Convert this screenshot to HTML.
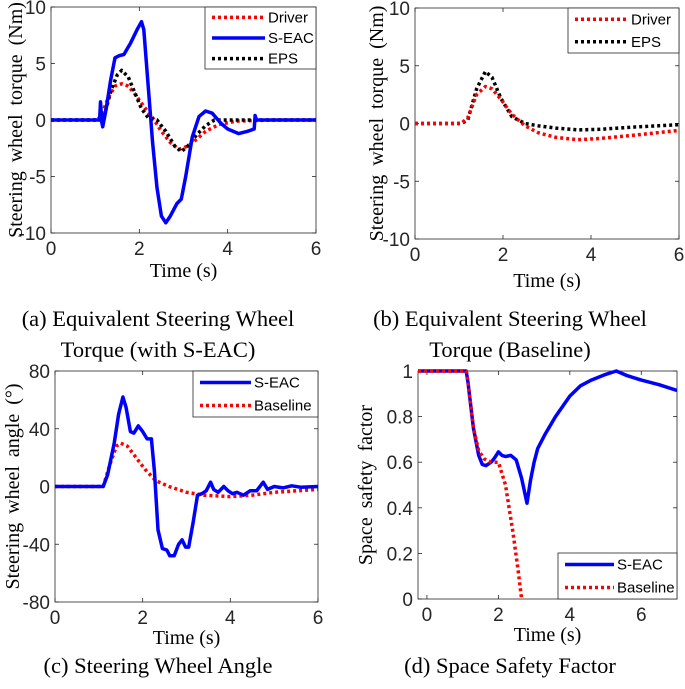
<!DOCTYPE html>
<html><head><meta charset="utf-8"><style>
body{margin:0;background:#fff;width:685px;height:689px;overflow:hidden}
svg{display:block}
.tk{font-family:"Liberation Sans",sans-serif;font-size:19px;fill:#262626}
.ax{font-family:"Liberation Serif",serif;font-size:20px;fill:#000}
.cap{font-family:"Liberation Serif",serif;font-size:22.5px;fill:#000}
.lg{font-family:"Liberation Sans",sans-serif;font-size:15px;fill:#000}
</style></head><body>
<svg id="fig" width="685" height="689">
<text class="cap" x="158" y="326" text-anchor="middle">(a) Equivalent Steering Wheel</text>
<text class="cap" x="158" y="357" text-anchor="middle">Torque (with S-EAC)</text>
<text class="cap" x="510" y="326" text-anchor="middle">(b) Equivalent Steering Wheel</text>
<text class="cap" x="510" y="357" text-anchor="middle">Torque (Baseline)</text>
<text class="cap" x="158" y="673" text-anchor="middle">(c) Steering Wheel Angle</text>
<text class="cap" x="510" y="673" text-anchor="middle">(d) Space Safety Factor</text>
</svg>
<script>
// (a)
const aDriverT=[0,1.05,1.15,1.3,1.45,1.6,1.75,1.9,2.1,2.3,2.5,2.7,2.9,3.1,3.3,3.5,3.8,4.2,5,6];
const aDriverV=[0,0,0.5,2,3,3.2,3,2.3,1.2,0.2,-1,-2,-2.6,-2.3,-1.7,-1,-0.4,-0.1,0,0];
const aEpsT=[0,1.1,1.2,1.35,1.5,1.6,1.75,1.9,2.05,2.2,2.4,2.6,2.8,2.95,3.1,3.3,3.5,3.7,3.9,6];
const aEpsV=[0,0,0.3,2.5,4,4.4,3.8,2.4,1,0.2,0,-1,-2.3,-2.8,-2.3,-1.3,-0.5,0,0,0];
const aSeacT=[0,1.1,1.12,1.15,1.17,1.25,1.35,1.45,1.55,1.65,1.8,1.95,2.05,2.1,2.2,2.3,2.4,2.5,2.6,2.7,2.85,2.95,3.05,3.2,3.35,3.5,3.65,3.85,4.0,4.25,4.45,4.6,4.62,4.65,6];
const aSeacV=[0,0,1.6,-0.2,-0.6,1,3.5,5.5,5.7,5.8,6.8,8,8.7,8,3,-2,-6,-8.5,-9.1,-8.5,-7.4,-7,-5,-1.5,0.3,0.8,0.6,-0.3,-0.8,-1.2,-1,-0.8,0.4,0,0];
const torqueTicks=[-10,-5,0,5,10];
const timeTicks=[0,2,4,6];
// (b)
const bT=[0,1.05,1.2,1.4,1.6,1.75,1.95,2.2,2.5,2.8,3.2,3.7,4.2,5,6];
const bDriverV=[0,0,0.5,2.5,3.2,3,2.1,0.8,-0.2,-0.8,-1.2,-1.4,-1.3,-1,-0.6];
const bEpsV=[0,0,0.3,3,4.5,4,2.2,0.6,0,-0.2,-0.4,-0.55,-0.5,-0.3,-0.1];
// (c)
const cBaseT=[0,1.1,1.25,1.4,1.5,1.65,1.85,2.05,2.3,2.6,3,3.4,4,4.5,5,6];
const cBaseV=[0,0,15,28,30,28,20,12,4,0,-4,-6,-7,-6,-4,-2];
const cSeacT=[0,1.1,1.2,1.35,1.45,1.55,1.62,1.72,1.8,1.9,2.0,2.1,2.2,2.27,2.35,2.45,2.55,2.62,2.72,2.82,2.9,2.98,3.05,3.15,3.25,3.35,3.45,3.55,3.62,3.72,3.85,3.95,4.05,4.15,4.3,4.45,4.6,4.75,4.85,5.0,5.2,5.4,5.6,6];
const cSeacV=[0,0,8,30,50,62,55,38,37,42,38,33,33,10,-30,-43,-44,-48,-48,-40,-37,-42,-42,-25,-6,-5,-3,3,-2,-4,0,-3,-5,-4,-6,-3,-3,3,-2,0,-1,0.5,-0.5,0];
const angleTicks=[-80,-40,0,40,80];
// (d)
const dBaseT=[-0.25,1.1,1.15,1.3,1.45,1.6,1.8,2.0,2.2,2.4,2.55,2.65];
const dBaseV=[1,1,0.95,0.75,0.65,0.615,0.6,0.6,0.5,0.3,0.13,0];
const dSeacT=[-0.25,1.1,1.15,1.3,1.45,1.55,1.65,1.8,1.9,2.0,2.1,2.2,2.35,2.5,2.65,2.8,2.9,3.0,3.1,3.3,3.6,4.0,4.3,4.6,5.0,5.3,5.6,6.0,6.5,7];
const dSeacV=[1,1,0.95,0.75,0.63,0.59,0.585,0.6,0.62,0.645,0.63,0.625,0.63,0.61,0.53,0.42,0.52,0.6,0.66,0.72,0.8,0.89,0.935,0.96,0.985,1.0,0.98,0.96,0.94,0.915];
const safetyTicks=[0,0.2,0.4,0.6,0.8,1];
const safetyTickLabels=["0","0.2","0.4","0.6","0.8","1"];
const timeTicksD=[0,2,4,6];

const NS="http://www.w3.org/2000/svg";
const fig=document.getElementById('fig');
function mk(tag,attrs,parent){const e=document.createElementNS(NS,tag);for(const k in attrs)e.setAttribute(k,attrs[k]);(parent||fig).appendChild(e);return e;}
const STY={
 blue:{stroke:'#0000ff','stroke-width':3.5,fill:'none'},
 red:{stroke:'#ff0000','stroke-width':3.5,fill:'none','stroke-dasharray':'3 3'},
 black:{stroke:'#000','stroke-width':3.5,fill:'none','stroke-dasharray':'3 3'}
};
function chart(o){
 const g=mk('g',{});
 
 
 const X=v=>o.L+(v-o.x0)/(o.x1-o.x0)*(o.R-o.L);
 const Y=v=>o.B-(v-o.y0)/(o.y1-o.y0)*(o.B-o.T);
 mk('rect',{x:o.L,y:o.T,width:o.R-o.L,height:o.B-o.T,fill:'#fff',stroke:'#262626','stroke-width':0.8},g);
 o.xt.forEach(v=>{const x=X(v);
  mk('line',{x1:x,x2:x,y1:o.B,y2:o.B-4,stroke:'#262626','stroke-width':0.8},g);
  mk('line',{x1:x,x2:x,y1:o.T,y2:o.T+4,stroke:'#262626','stroke-width':0.8},g);
  const t=mk('text',{x:x,y:o.B+22,'text-anchor':'middle',class:'tk'},g);t.textContent=String(v);
  
  
 });
 o.yt.forEach((v,i)=>{const y=Y(v);
  mk('line',{x1:o.L,x2:o.L+4,y1:y,y2:y,stroke:'#262626','stroke-width':0.8},g);
  mk('line',{x1:o.R,x2:o.R-4,y1:y,y2:y,stroke:'#262626','stroke-width':0.8},g);
  const t=mk('text',{x:o.L-5,y:y+7,'text-anchor':'end',class:'tk'},g);t.textContent=o.ytl?o.ytl[i]:String(v);
  
  
 });
 const cp=mk('clipPath',{id:'c'+o.name},g);mk('rect',{x:o.L,y:o.T-3,width:o.R-o.L,height:o.B-o.T+6},cp);
 o.series.forEach(s=>{
  const d=s.t.map((t,i)=>(i?'L':'M')+X(t).toFixed(1)+','+Y(s.v[i]).toFixed(1)).join('');
  const p=mk('path',Object.assign({d:d,'clip-path':'url(#c'+o.name+')','stroke-linejoin':'round'},STY[s.c]),g);
  
  
 });
 const xl=mk('text',{x:(o.L+o.R)/2,y:o.xly,'text-anchor':'middle',class:'ax'},g);xl.textContent='Time (s)';
 
 
 const yl=mk('text',{x:0,y:0,'text-anchor':'middle',class:'ax',transform:`translate(${o.ylx},${(o.T+o.B)/2}) rotate(-90)`,'word-spacing':'4'},g);yl.textContent=o.ylab;
 
 
 const lg=o.leg;const lgG=mk('g',{},g);
 
 
 mk('rect',{x:lg.x,y:lg.y,width:lg.w,height:lg.h,fill:'#fff',stroke:'#262626','stroke-width':0.8},lgG);
 o.series.slice().sort((a,b)=>a.li-b.li).forEach((s,i)=>{
  const yy=lg.y+lg.h/(o.series.length)*(i+0.5);
  mk('line',Object.assign({x1:lg.x+7,x2:lg.x+lg.lw,y1:yy,y2:yy},STY[s.c]),lgG);
  const t=mk('text',{x:lg.x+lg.lw+3,y:yy+5,class:'lg'},lgG);t.textContent=s.label;
  
  
 });
}
chart({name:'chart-a',L:51,R:316,T:7,B:233,x0:0,x1:6,y0:-10,y1:10,xt:timeTicks,yt:torqueTicks,xly:277,ylx:22,ylab:'Steering wheel torque (Nm)',
 leg:{x:205,y:7,w:111,h:62,lw:60},
 series:[{id:'line-driver',c:'red',t:aDriverT,v:aDriverV,label:'Driver',li:0},{id:'line-eps',c:'black',t:aEpsT,v:aEpsV,label:'EPS',li:2},{id:'line-s-eac',c:'blue',t:aSeacT,v:aSeacV,label:'S-EAC',li:1}]});
chart({name:'chart-b',L:415,R:679,T:8,B:239,x0:0,x1:6,y0:-10,y1:10,xt:timeTicks,yt:torqueTicks,xly:287,ylx:383,ylab:'Steering wheel torque (Nm)',
 leg:{x:568,y:8,w:111,h:45,lw:60},
 series:[{id:'line-eps',c:'black',t:bT,v:bEpsV,label:'EPS',li:1},{id:'line-driver',c:'red',t:bT,v:bDriverV,label:'Driver',li:0}]});
chart({name:'chart-c',L:55,R:318,T:371,B:602,x0:0,x1:6,y0:-80,y1:80,xt:timeTicks,yt:angleTicks,xly:644,ylx:19,ylab:'Steering wheel angle (°)',
 leg:{x:193,y:371,w:125,h:46,lw:58},
 series:[{id:'line-baseline',c:'red',t:cBaseT,v:cBaseV,label:'Baseline',li:1},{id:'line-s-eac',c:'blue',t:cSeacT,v:cSeacV,label:'S-EAC',li:0}]});
chart({name:'chart-d',L:418,R:677,T:371,B:599,x0:-0.25,x1:7,y0:0,y1:1,xt:timeTicksD,yt:safetyTicks,ytl:safetyTickLabels,xly:641,ylx:372,ylab:'Space safety factor',
 leg:{x:558,y:553,w:119,h:46,lw:56},
 series:[{id:'line-s-eac',c:'blue',t:dSeacT,v:dSeacV,label:'S-EAC',li:0},{id:'line-baseline',c:'red',t:dBaseT,v:dBaseV,label:'Baseline',li:1}]});
</script>
</body></html>
